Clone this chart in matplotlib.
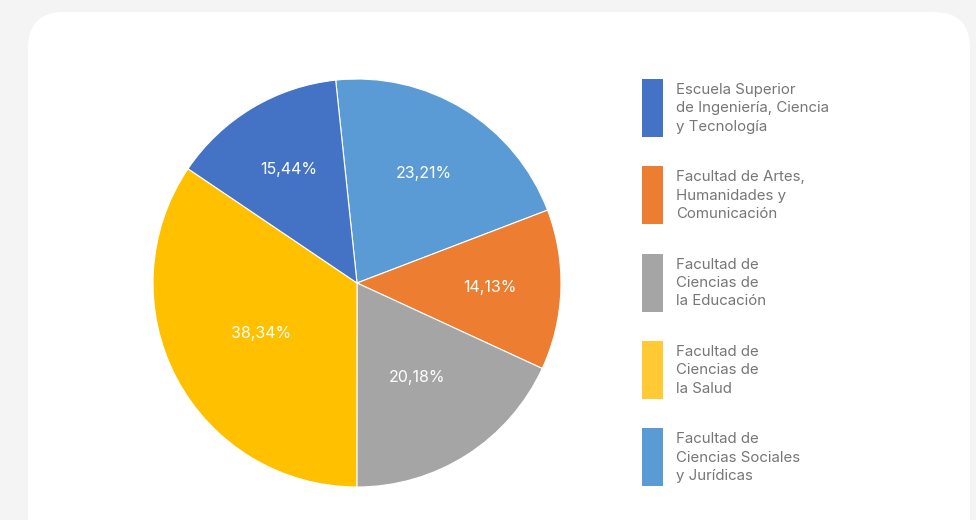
import matplotlib
matplotlib.use("Agg")
import matplotlib.pyplot as plt
import numpy as np
from matplotlib.patches import FancyBboxPatch, Rectangle

plt.rcParams['font.family'] = ['Inter', 'DejaVu Sans']

# slices in drawing order (clockwise from the top)
slice_names = ["Sociales", "Artes", "Educación", "Salud", "Escuela"]
slice_values = [23.21, 14.13, 20.18, 38.34, 15.44]
slice_colors = ["#5B9BD5", "#ED7D31", "#A5A5A5", "#FFC000", "#4472C4"]
label_dist = [0.63, 0.65, 0.55, 0.53, 0.65]   # best-fit label radius per slice

# legend entries (top to bottom)
legend_labels = [
    "Escuela Superior\nde Ingeniería, Ciencia\ny Tecnología",
    "Facultad de Artes,\nHumanidades y\nComunicación",
    "Facultad de\nCiencias de\nla Educación",
    "Facultad de\nCiencias de\nla Salud",
    "Facultad de\nCiencias Sociales\ny Jurídicas",
]
legend_colors = ["#4472C4", "#ED7D31", "#A5A5A5", "#FFCA33", "#5B9BD5"]

W, H = 976, 520
fig = plt.figure(figsize=(W / 100, H / 100), dpi=100)
fig.patch.set_facecolor("#F4F4F4")
ax = fig.add_axes([0, 0, 1, 1])
ax.set_axis_off()

card = FancyBboxPatch((28, -40), 942, 548, boxstyle="round,pad=0,rounding_size=36",
                      facecolor="white", edgecolor="none", zorder=0)
ax.add_patch(card)

cx, cy, R = 357, 237, 204
total = sum(slice_values)
wedges, texts, autotexts = ax.pie(
    slice_values, colors=slice_colors, startangle=96, counterclock=False,
    center=(cx, cy), radius=R, pctdistance=0.6,
    autopct=lambda p: f"{p * total / 100:.2f}%".replace(".", ","),
    wedgeprops=dict(edgecolor="white", linewidth=0.8),
    textprops=dict(color="white", fontsize=11.5),
)
for w, t, d in zip(wedges, autotexts, label_dist):
    w.set_zorder(2)
    ang = np.deg2rad((w.theta1 + w.theta2) / 2)
    t.set_position((cx + d * R * np.cos(ang), cy + d * R * np.sin(ang)))

ax.set_xlim(0, W)
ax.set_ylim(0, H)
ax.set_aspect("equal")

for i, (lab, col) in enumerate(zip(legend_labels, legend_colors)):
    top = 79 + i * 87.3
    ax.add_patch(Rectangle((642, H - top - 58), 21, 58, facecolor=col, edgecolor="none"))
    ax.text(676, H - top - 4, lab, color="#767676", fontsize=10.8, va="top", ha="left",
            linespacing=1.4)

fig.savefig("out.png", dpi=100, facecolor=fig.get_facecolor())
